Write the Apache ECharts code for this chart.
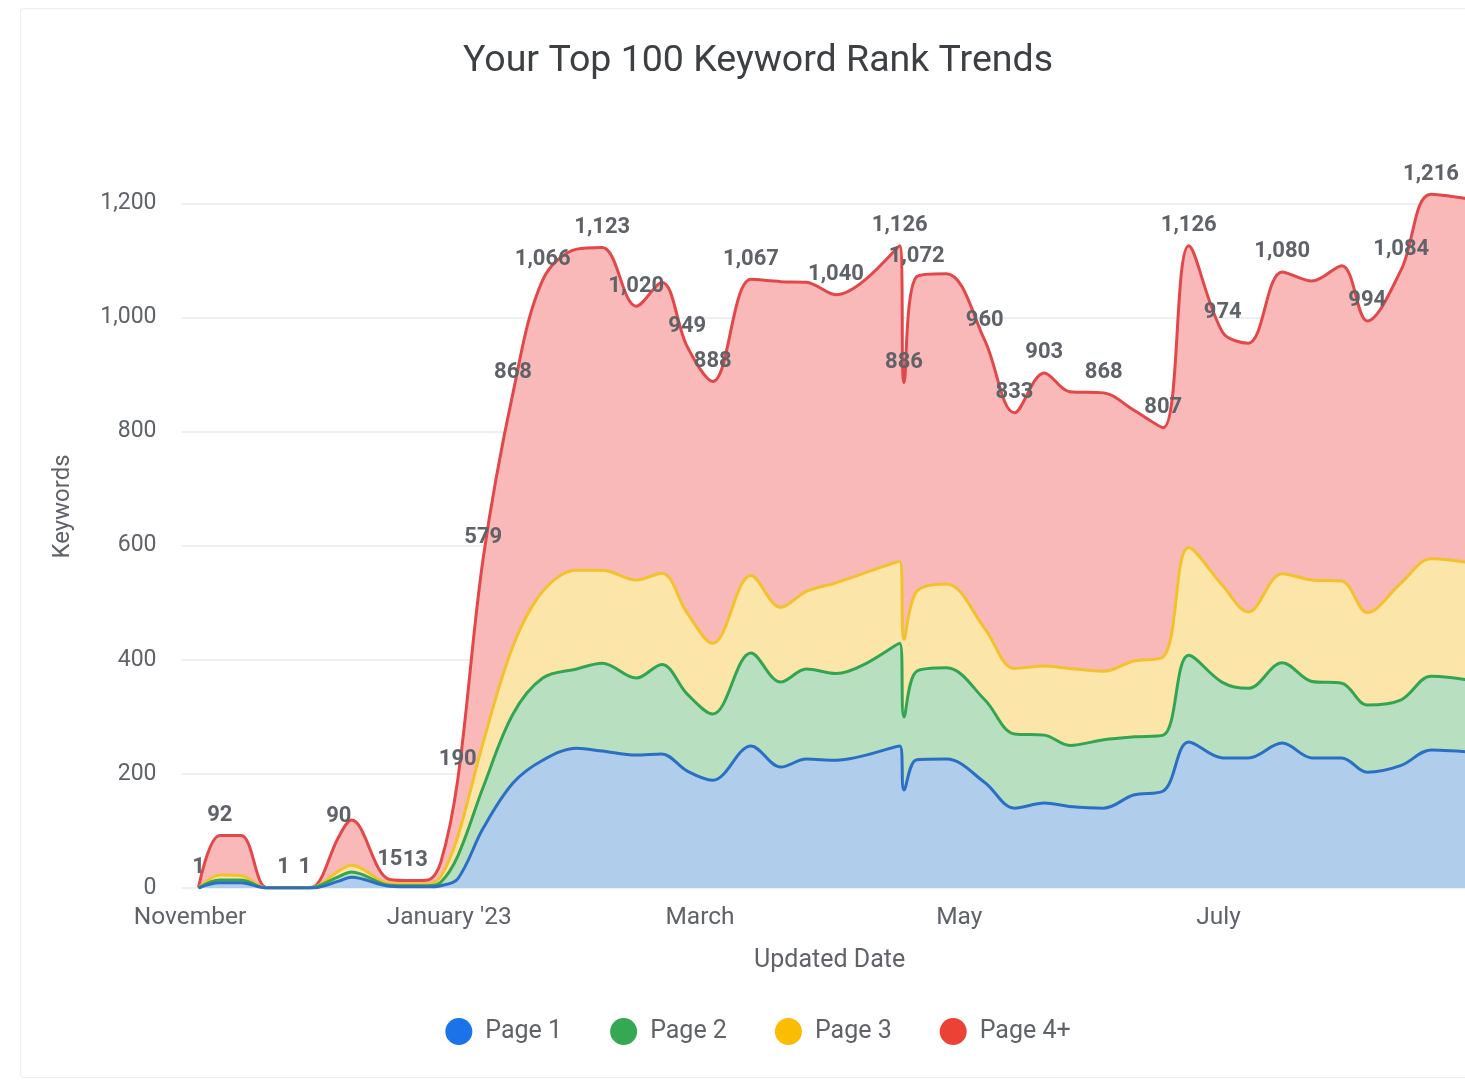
<!DOCTYPE html>
<html>
<head>
<meta charset="utf-8">
<title>Your Top 100 Keyword Rank Trends</title>
<script src="https://cdn.jsdelivr.net/npm/echarts@6/dist/echarts.min.js"></script>
<style>
  html, body { margin: 0; padding: 0; width: 1465px; height: 1085px; overflow: hidden; background: #ffffff; }
  #card { position: absolute; left: 20px; top: 8px; width: 1520px; height: 1070px; border: 1px solid #ededed; border-radius: 4px; box-sizing: border-box; }
  #chart { position: absolute; left: 20px; top: 0; width: 1476px; height: 1085px; }
</style>
</head>
<body>
<div id="card"></div>
<div id="chart"></div>
<script>
// Snapshot dates of the keyword rank report
const dates = [
  '2022-11-03', '2022-11-08', '2022-11-13', '2022-11-19', '2022-11-23', '2022-11-28', '2022-11-30',
  '2022-12-06', '2022-12-09', '2022-12-18', '2022-12-24', '2022-12-27', '2022-12-30',
  '2023-01-03', '2023-01-09', '2023-01-16', '2023-01-23', '2023-01-31',
  '2023-02-06', '2023-02-14', '2023-02-20', '2023-02-26',
  '2023-03-04', '2023-03-13', '2023-03-20', '2023-03-26',
  '2023-04-02', '2023-04-17', '2023-04-18', '2023-04-21', '2023-04-28',
  '2023-05-07', '2023-05-14', '2023-05-21', '2023-05-27',
  '2023-06-04', '2023-06-11', '2023-06-18', '2023-06-24',
  '2023-07-02', '2023-07-08', '2023-07-16', '2023-07-23', '2023-07-30',
  '2023-08-05', '2023-08-13', '2023-08-20', '2023-08-31'
];

// Keywords ranking on each results page
const page1 = [0, 9, 9, 0, 0, 0, 0, 12, 19, 3, 2, 2, 4, 16, 105, 184, 224, 245, 240, 233, 235, 205,
  189, 249, 212, 226, 224, 249, 172, 225, 226, 185, 140, 149, 143, 140, 163, 170, 256,
  228, 228, 254, 228, 228, 203, 215, 242, 237];
const page2 = [0, 5, 5, 0, 0, 0, 1, 8, 9, 2, 2, 2, 6, 40, 72, 121, 144, 139, 154, 135, 157, 135,
  116, 163, 149, 158, 152, 180, 128, 155, 160, 145, 130, 119, 107, 120, 102, 98, 152,
  132, 122, 141, 134, 131, 118, 115, 129, 125];
const page3 = [0, 9, 8, 0, 0, 0, 0, 10, 12, 3, 3, 3, 10, 34, 79, 119, 152, 173, 163, 172, 160, 142,
  124, 136, 131, 136, 159, 144, 136, 140, 147, 125, 115, 121, 135, 120, 133, 137, 189,
  170, 134, 156, 178, 179, 162, 205, 206, 206];
const page4 = [1, 69, 70, 1, 1, 1, 1, 60, 79, 7, 6, 7, 25, 100, 323, 444, 546, 563, 566, 480, 510, 467,
  459, 519, 571, 542, 505, 553, 450, 552, 544, 505, 448, 514, 485, 488, 440, 402, 529,
  444, 471, 529, 524, 553, 511, 549, 639, 637];

// Points whose total is printed above the stack (1 = printed)
const labeled = [1, 1, 0, 0, 1, 1, 0, 1, 0, 1, 1, 0, 0, 1, 1, 1, 1, 0, 1, 1, 0, 1,
  1, 1, 0, 0, 1, 1, 1, 1, 0, 1, 1, 1, 0, 1, 0, 1, 1,
  1, 0, 1, 0, 0, 1, 1, 1, 0];

// Month labels along the date axis
const monthTicks = ['2022-11-01', '2023-01-01', '2023-03-01', '2023-05-01', '2023-07-01'];
const monthLabels = ['November', "January '23", 'March', 'May', 'July'];

const seriesNames = ['Page 1', 'Page 2', 'Page 3', 'Page 4+'];
const seriesColors = ['#1a73e8', '#34a853', '#fbbc04', '#ea4335'];
const lineColors = ['#2b6fc4', '#33a552', '#f2c12e', '#e2474a'];
const areaColors = ['#b0cdec', '#b8e0c0', '#fbe5a8', '#f9b9b8'];

function toTime(s) {
  const [y, m, d] = s.split('-').map(Number);
  return new Date(y, m - 1, d).getTime();
}
const fmt = v => Number(v).toLocaleString('en-US');

const times = dates.map(toTime);
const tickTimes = monthTicks.map(toTime);
const totals = times.map((_, i) => page1[i] + page2[i] + page3[i] + page4[i]);
const values = [page1, page2, page3, page4];
const xMin = toTime('2022-10-30');
const xMax = toTime('2023-08-31');

const FONT = 'Roboto, "Noto Sans", sans-serif';
const TEXT = '#5f6368';

const series = values.map((vals, s) => {
  const isTop = s === values.length - 1;
  return {
    name: seriesNames[s],
    type: 'line',
    xAxisIndex: 0,
    stack: 'pages',
    smooth: 0.35,
    // invisible point markers so the totals can be printed above the stack
    symbol: 'circle',
    symbolSize: 0,
    showSymbol: isTop,
    showAllSymbol: true,
    color: seriesColors[s],
    itemStyle: { color: seriesColors[s], opacity: 0 },
    lineStyle: { width: 3, color: lineColors[s] },
    areaStyle: { color: areaColors[s], opacity: 1 },
    emphasis: { disabled: true },
    // lower bands are painted last so every boundary line stays whole
    z: 10 - s,
    data: times.map((t, i) => {
      const item = { value: [t, vals[i]] };
      if (isTop) item.label = { show: labeled[i] === 1 };
      return item;
    }),
    label: isTop ? {
      show: false,
      position: 'top',
      distance: 9,
      fontFamily: FONT,
      fontSize: 22,
      fontWeight: 'bold',
      color: TEXT,
      opacity: 1,
      formatter: p => fmt(totals[p.dataIndex])
    } : { show: false }
  };
});

const chart = echarts.init(document.getElementById('chart'), null, { renderer: 'canvas' });
chart.setOption({
  animation: false,
  textStyle: { fontFamily: FONT },
  title: {
    text: 'Your Top 100 Keyword Rank Trends',
    left: 'center',
    top: 38,
    textStyle: { fontFamily: FONT, fontSize: 37.5, fontWeight: 'normal', color: '#3c4043' }
  },
  legend: {
    data: seriesNames.map((n, s) => ({ name: n, itemStyle: { color: seriesColors[s], opacity: 1 } })),
    left: 'center',
    top: 1013,
    icon: 'circle',
    itemWidth: 27,
    itemHeight: 27,
    itemGap: 48,
    textStyle: { fontFamily: FONT, fontSize: 25, color: TEXT, padding: [0, 0, 0, 8] }
  },
  grid: { left: 161.5, right: 18.25, top: 125, bottom: 197, containLabel: false },
  xAxis: [
    {
      // date scale that carries the stacked series
      type: 'time',
      min: xMin,
      max: xMax,
      axisLine: { show: false },
      axisTick: { show: false },
      axisLabel: { show: false },
      splitLine: { show: false }
    },
    {
      // the same span as plain timestamps, used for the month labels
      type: 'value',
      position: 'bottom',
      min: xMin,
      max: xMax,
      name: 'Updated Date',
      nameLocation: 'middle',
      nameGap: 60,
      nameTextStyle: { fontFamily: FONT, fontSize: 25, color: TEXT },
      axisLine: { show: false },
      axisTick: { show: false },
      splitLine: { show: false },
      axisLabel: {
        customValues: tickTimes,
        formatter: v => {
          const k = tickTimes.indexOf(+v);
          return k >= 0 ? monthLabels[k] : '';
        },
        fontFamily: FONT,
        fontSize: 24.5,
        color: TEXT,
        margin: 17
      }
    }
  ],
  yAxis: {
    type: 'value',
    min: 0,
    max: 1337.6,
    interval: 200,
    name: 'Keywords',
    nameLocation: 'middle',
    nameGap: 107,
    nameTextStyle: { fontFamily: FONT, fontSize: 24, color: TEXT },
    axisLine: { show: false },
    axisTick: { show: false },
    axisLabel: {
      fontFamily: FONT,
      fontSize: 23,
      color: TEXT,
      margin: 25,
      showMaxLabel: false,
      formatter: v => (v % 200 === 0 ? fmt(v) : '')
    },
    splitLine: { show: true, showMaxLine: false, lineStyle: { color: '#e8eaed', width: 1.5 } }
  },
  series: series
});
</script>
</body>
</html>
